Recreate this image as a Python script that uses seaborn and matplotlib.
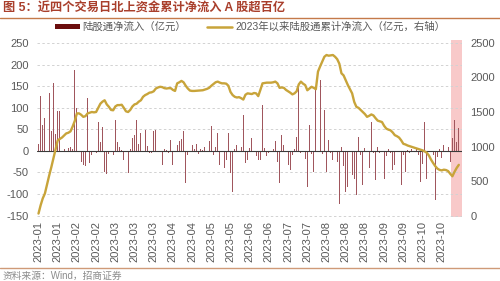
import matplotlib
matplotlib.use("Agg")
import matplotlib.pyplot as plt
from matplotlib.patches import Patch
from matplotlib.lines import Line2D
import seaborn as sns
import numpy as np
import pandas as pd

# ---------------- data ----------------
month_labels = ["2023-01", "2023-01", "2023-02", "2023-02", "2023-03", "2023-03",
                "2023-03", "2023-04", "2023-04", "2023-05", "2023-05", "2023-06",
                "2023-06", "2023-07", "2023-07", "2023-08", "2023-08", "2023-08",
                "2023-09", "2023-09", "2023-10", "2023-10"]

daily_flow = [
    17, 128, 60, 77, 103, 133, 45, 157, 40, 92,
    92, 25, 5, -3, 6, 8, 4, 188, 100, 25,
    -25, -33, -36, 122, -28, -10, -14, -6, 68, 20,
    55, -49, -53, -8, -17, -9, 72, 20, 10, 3,
    -21, -44, -52, 5, 30, 37, 72, 15, 41, 8,
    49, 12, -4, -5, 45, 49, 6, -3, -33, 4,
    3, -6, 25, -33, 64, 14, 22, 28, 46, -75,
    -10, -47, 14, 4, 15, -8, 4, 2, 8, 18,
    23, 57, -10, 8, 41, -33, 18, -40, -20, 41,
    -52, -95, 4, 14, -36, 8, 84, -29, -20, 7,
    29, 22, -13, -21, -20, 107, 7, -12, -6, 14,
    5, 22, -25, -75, 37, 14, -8, -33, -44, -10,
    5, 33, 150, -6, 4, -18, -83, 60, -8, -48,
    140, 37, 165, -8, 95, -48, 26, -5, -21, -67,
    -25, -122, 8, -36, -95, -83, 5, -56, -64, -102,
    33, -10, -79, 6, -25, -40, 68, -6, -67, 8,
    -5, 22, -64, -12, 4, -6, -44, -33, 76, -20,
    -79, -10, -48, 2, -5, 4, -3, 5, -10, -71,
    -30, 68, -64, -60, -8, -10, -114, -15, 4, -17,
    14, 49, 10, -25, 29, 72, 20, 54,
]

cum_flow = [
    30, 150, 250, 320, 450, 580, 700, 830, 960, 1090,
    1110, 1130, 1160, 1190, 1200, 1220, 1290, 1370, 1480, 1480,
    1460, 1430, 1440, 1480, 1490, 1500, 1495, 1500, 1560, 1620,
    1650, 1670, 1610, 1575, 1530, 1525, 1580, 1600, 1600, 1605,
    1560, 1510, 1500, 1530, 1580, 1610, 1620, 1650, 1670, 1720,
    1745, 1760, 1780, 1785, 1800, 1840, 1855, 1865, 1860, 1845,
    1840, 1845, 1845, 1820, 1805, 1915, 1930, 1950, 1930, 1880,
    1840, 1810, 1805, 1805, 1808, 1810, 1812, 1815, 1825, 1835,
    1850, 1880, 1905, 1930, 1940, 1925, 1915, 1915, 1910, 1880,
    1790, 1745, 1720, 1710, 1715, 1700, 1680, 1750, 1770, 1765,
    1760, 1775, 1770, 1730, 1820, 1915, 1920, 1925, 1925, 1925,
    1930, 1940, 1915, 1850, 1855, 1850, 1820, 1800, 1780, 1755,
    1770, 1800, 1900, 1940, 1910, 1890, 1815, 1840, 1865, 1850,
    1830, 2085, 2160, 2230, 2300, 2325, 2315, 2320, 2325, 2300,
    2265, 2200, 2060, 2030, 1960, 1890, 1830, 1770, 1645, 1575,
    1560, 1530, 1500, 1470, 1430, 1445, 1465, 1450, 1410, 1375,
    1365, 1355, 1300, 1260, 1245, 1235, 1205, 1165, 1150, 1130,
    1090, 1040, 1030, 1015, 1005, 995, 985, 975, 965, 955,
    945, 930, 910, 870, 810, 760, 715, 680, 662, 655,
    665, 660, 645, 605, 570, 635, 690, 735,
]

legend_labels = ["陆股通净流入（亿元）", "2023年以来陆股通累计净流入（亿元，右轴）"]
title_text = "图 5：近四个交易日北上资金累计净流入 A 股超百亿"
source_text = "资料来源：Wind，招商证券"

# ---------------- style ----------------
sns.set_theme(style="white")
plt.rcParams["font.family"] = ["Liberation Sans", "Noto Sans CJK SC", "DejaVu Sans"]
plt.rcParams["axes.unicode_minus"] = False

bar_color = "#a0565d"
legend_bar_color = "#6b0d0d"
line_color = "#c8a43a"
grey_text = "#595959"

n = len(daily_flow)
pos = np.arange(n)
df = pd.DataFrame({"pos": pos, "flow": daily_flow, "cum": cum_flow})

fig = plt.figure(figsize=(5, 2.81), dpi=100)
ax = fig.add_axes([0.074, 0.228, 0.85, 0.630])

sns.barplot(data=df, x="pos", y="flow", native_scale=True, color=bar_color,
            width=0.4, linewidth=0, saturation=1, ax=ax, zorder=2)

ax.set_xlim(-0.7, n + 0.5)
ax.set_ylim(-153, 257)
ax.set_yticks(np.arange(-150, 251, 50))
ax.yaxis.grid(True, linestyle=(0, (2.5, 2.5)), color="#d2d2d2", linewidth=0.7)
ax.xaxis.grid(False)
ax.axhline(0, color="#3a3a3a", linewidth=0.8, zorder=3)
ax.set_xticks(pos[::9][:len(month_labels)])
ax.set_xticklabels(month_labels, rotation=90, fontsize=8, color=grey_text)
ax.tick_params(axis="y", labelsize=8, labelcolor=grey_text, length=0, pad=6)
ax.tick_params(axis="x", length=0, pad=3)
ax.set_xlabel("")
ax.set_ylabel("")
for s in ax.spines.values():
    s.set_visible(False)

# highlight last four trading days
ax.axvspan(n - 4.5, n + 0.5, color="#f8c4c4", alpha=0.9, zorder=0, linewidth=0)

ax2 = ax.twinx()
sns.lineplot(data=df, x="pos", y="cum", color=line_color, linewidth=1.7, ax=ax2)
ax2.set_ylim((-153 + 150) * 6.25, (257 + 150) * 6.25)
ax2.set_yticks(np.arange(0, 2501, 500))
ax2.tick_params(axis="y", labelsize=8, labelcolor=grey_text, length=0, pad=6)
ax2.set_ylabel("")
ax2.set_xlabel("")
ax2.grid(False)
for s in ax2.spines.values():
    s.set_visible(False)
ax2.set_xlim(ax.get_xlim())

# legend
handles = [Patch(facecolor=legend_bar_color, edgecolor="none"),
           Line2D([0], [0], color=line_color, linewidth=1.8)]
fig.legend(handles, legend_labels, loc="center", bbox_to_anchor=(0.5, 1 - 27 / 281),
           ncol=2, frameon=False, fontsize=7.5, labelcolor=grey_text,
           handlelength=2.4, handleheight=0.5, handletextpad=0.3, columnspacing=2.0)

# title, rules, source
fig.text(0.006, 1 - 9 / 281, title_text, fontsize=8.8, fontweight="bold",
         color="#a93f2c", va="center", ha="left")
fig.add_artist(Line2D([0, 1], [1 - 18 / 281, 1 - 18 / 281], color="#c47a4a", linewidth=1.0))
fig.add_artist(Line2D([0, 1], [1 - 268 / 281, 1 - 268 / 281], color="#cf9a78", linewidth=1.0))
fig.text(0.006, 1 - 276 / 281, source_text, fontsize=7, color="#8c8c8c",
         va="center", ha="left")

fig.savefig("out.png", dpi=100)
